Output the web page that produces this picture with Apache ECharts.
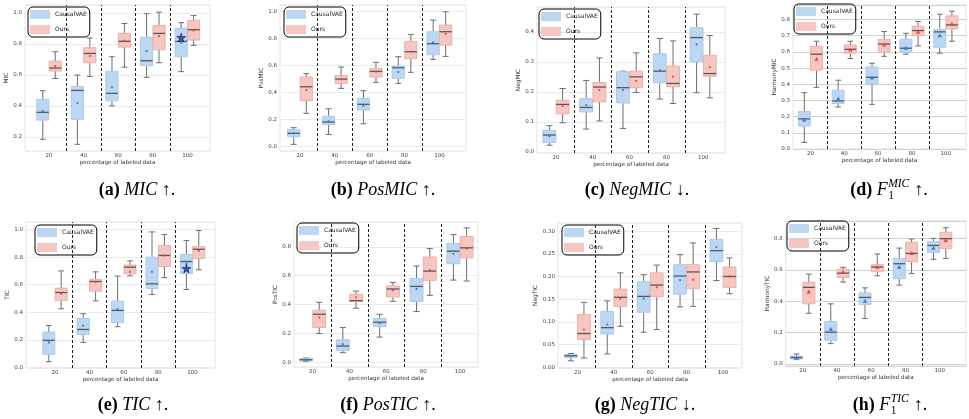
<!DOCTYPE html>
<html>
<head>
<meta charset="utf-8">
<script src="https://cdn.jsdelivr.net/npm/echarts@6/dist/echarts.min.js"></script>
<style>
  html, body { margin: 0; padding: 0; background: #fff; }
  #chart { width: 969px; height: 419px; }
</style>
</head>
<body>
<div id="chart"></div>
<script>
const categories = ["20", "40", "60", "80", "100"];
const separators = [0.5, 1.5, 2.5, 3.5];

// each row: [min, q1, median, q3, max, mean]
const micCausal = [
  [0.185, 0.309, 0.359, 0.442, 0.498, 0.367],
  [0.153, 0.314, 0.500, 0.526, 0.599, 0.419],
  [0.400, 0.434, 0.481, 0.623, 0.717, 0.520],
  [0.584, 0.659, 0.691, 0.843, 0.994, 0.753],
  [0.621, 0.717, 0.816, 0.901, 0.936, 0.807],
];
const micOurs = [
  [0.577, 0.625, 0.644, 0.689, 0.749, 0.657],
  [0.590, 0.678, 0.738, 0.775, 0.837, 0.721],
  [0.650, 0.779, 0.816, 0.867, 0.931, 0.820],
  [0.678, 0.762, 0.867, 0.918, 1.004, 0.850],
  [0.790, 0.824, 0.891, 0.951, 0.983, 0.886],
];
const posmicCausal = [
  [0.017, 0.074, 0.099, 0.128, 0.141, 0.099],
  [0.091, 0.163, 0.183, 0.225, 0.281, 0.188],
  [0.170, 0.272, 0.314, 0.358, 0.415, 0.304],
  [0.469, 0.506, 0.585, 0.598, 0.667, 0.553],
  [0.647, 0.681, 0.763, 0.852, 0.938, 0.773],
];
const posmicOurs = [
  [0.247, 0.341, 0.444, 0.516, 0.541, 0.420],
  [0.432, 0.469, 0.501, 0.528, 0.590, 0.499],
  [0.477, 0.516, 0.558, 0.580, 0.625, 0.556],
  [0.551, 0.652, 0.704, 0.780, 0.832, 0.701],
  [0.669, 0.753, 0.852, 0.901, 1.000, 0.837],
];
const negmicCausal = [
  [0.022, 0.031, 0.056, 0.072, 0.087, 0.052],
  [0.076, 0.133, 0.148, 0.177, 0.238, 0.156],
  [0.078, 0.163, 0.214, 0.267, 0.269, 0.206],
  [0.176, 0.230, 0.269, 0.327, 0.378, 0.272],
  [0.197, 0.300, 0.381, 0.414, 0.459, 0.358],
];
const negmicOurs = [
  [0.097, 0.127, 0.158, 0.172, 0.211, 0.152],
  [0.103, 0.167, 0.216, 0.231, 0.313, 0.206],
  [0.198, 0.214, 0.250, 0.269, 0.330, 0.236],
  [0.161, 0.217, 0.228, 0.286, 0.370, 0.251],
  [0.180, 0.252, 0.261, 0.322, 0.388, 0.282],
];
const harmicCausal = [
  [0.041, 0.142, 0.186, 0.231, 0.348, 0.179],
  [0.260, 0.282, 0.297, 0.363, 0.425, 0.309],
  [0.276, 0.402, 0.443, 0.507, 0.530, 0.439],
  [0.586, 0.598, 0.623, 0.678, 0.715, 0.623],
  [0.592, 0.629, 0.724, 0.740, 0.833, 0.701],
];
const harmicOurs = [
  [0.381, 0.487, 0.586, 0.635, 0.666, 0.555],
  [0.559, 0.592, 0.616, 0.643, 0.666, 0.612],
  [0.573, 0.598, 0.649, 0.678, 0.726, 0.643],
  [0.637, 0.701, 0.732, 0.759, 0.788, 0.722],
  [0.666, 0.742, 0.767, 0.823, 0.852, 0.771],
];
const ticCausal = [
  [0.041, 0.094, 0.196, 0.256, 0.304, 0.181],
  [0.181, 0.239, 0.275, 0.355, 0.389, 0.302],
  [0.295, 0.324, 0.413, 0.481, 0.662, 0.420],
  [0.529, 0.572, 0.606, 0.800, 0.983, 0.693],
  [0.565, 0.681, 0.768, 0.819, 0.920, 0.751],
];
const ticOurs = [
  [0.425, 0.486, 0.543, 0.575, 0.700, 0.534],
  [0.483, 0.553, 0.623, 0.638, 0.693, 0.621],
  [0.664, 0.679, 0.727, 0.742, 0.773, 0.693],
  [0.652, 0.732, 0.812, 0.884, 0.964, 0.812],
  [0.708, 0.790, 0.857, 0.877, 0.993, 0.845],
];
const posticCausal = [
  [0.007, 0.011, 0.018, 0.025, 0.030, 0.018],
  [0.067, 0.083, 0.113, 0.156, 0.241, 0.126],
  [0.175, 0.248, 0.278, 0.303, 0.333, 0.271],
  [0.352, 0.421, 0.526, 0.582, 0.667, 0.508],
  [0.570, 0.683, 0.770, 0.823, 0.885, 0.752],
];
const posticOurs = [
  [0.200, 0.241, 0.333, 0.361, 0.416, 0.310],
  [0.375, 0.421, 0.428, 0.471, 0.494, 0.451],
  [0.423, 0.453, 0.508, 0.529, 0.554, 0.499],
  [0.464, 0.568, 0.632, 0.729, 0.789, 0.637],
  [0.563, 0.724, 0.793, 0.871, 0.931, 0.789],
];
const negticCausal = [
  [0.014, 0.021, 0.025, 0.028, 0.030, 0.024],
  [0.029, 0.073, 0.087, 0.123, 0.146, 0.094],
  [0.077, 0.121, 0.156, 0.188, 0.204, 0.151],
  [0.133, 0.161, 0.201, 0.226, 0.248, 0.192],
  [0.191, 0.233, 0.257, 0.282, 0.306, 0.265],
];
const negticOurs = [
  [0.020, 0.061, 0.074, 0.116, 0.143, 0.083],
  [0.090, 0.134, 0.154, 0.172, 0.208, 0.151],
  [0.083, 0.155, 0.181, 0.208, 0.225, 0.176],
  [0.134, 0.173, 0.210, 0.226, 0.274, 0.193],
  [0.162, 0.176, 0.200, 0.221, 0.241, 0.200],
];
const harticCausal = [
  [0.028, 0.032, 0.041, 0.051, 0.064, 0.038],
  [0.130, 0.151, 0.203, 0.271, 0.384, 0.222],
  [0.290, 0.380, 0.425, 0.454, 0.486, 0.401],
  [0.503, 0.544, 0.640, 0.674, 0.740, 0.619],
  [0.668, 0.713, 0.757, 0.781, 0.802, 0.740],
];
const harticOurs = [
  [0.324, 0.384, 0.489, 0.521, 0.574, 0.461],
  [0.523, 0.553, 0.580, 0.604, 0.617, 0.587],
  [0.563, 0.589, 0.619, 0.636, 0.702, 0.619],
  [0.578, 0.653, 0.706, 0.777, 0.798, 0.706],
  [0.674, 0.738, 0.800, 0.841, 0.870, 0.789],
];
// highlighted CausalVAE result at 100%
const micStar = [[4, 0.840]];
const ticStar = [[4, 0.717]];

const BOX_W = 0.35;
const BOX_OFF = 0.18;
const colors = {
  causalFill: "#bdd7f3", causalEdge: "#a8c9ee", causalMean: "#2b7fd8",
  oursFill: "#f6c7c2", oursEdge: "#eeaea7", oursMean: "#e4473a",
  whisker: "#6e6e6e", median: "#585858",
};
const starPath = "path://M50,0 L61,35 L98,35 L68,57 L79,91 L50,70 L21,91 L32,57 L2,35 L39,35 Z";

const panels = [
  { yName: "MIC", causal: micCausal, ours: micOurs, star: micStar, left: 25, right: 210, c0: 49, sp: 34.6, top: 5, bottom: 151, yMin: 0.11, yMax: 1.05, step: 0.2, dec: 1, legend: [28, 7], tri: false, grid: "#ececec" },
  { yName: "PosMIC", causal: posmicCausal, ours: posmicOurs, left: 280, right: 466, c0: 300, sp: 34.85, top: 5, bottom: 151, yMin: -0.032, yMax: 1.05, step: 0.2, dec: 1, legend: [284, 7], tri: false, grid: "#ececec" },
  { yName: "NegMIC", causal: negmicCausal, ours: negmicOurs, left: 537, right: 725, c0: 556, sp: 36.8, top: 7, bottom: 153, yMin: -0.004, yMax: 0.483, step: 0.1, dec: 1, legend: [539, 9], tri: false, grid: "#ececec" },
  { yName: "HarmonyMIC", causal: harmicCausal, ours: harmicOurs, left: 793, right: 980, c0: 811.8, sp: 36.6, top: 5, bottom: 149, yMin: 0, yMax: 0.89, step: 0.1, dec: 1, legend: [794, 4], tri: true, grid: "#d2d2d2" },
  { yName: "TIC", causal: ticCausal, ours: ticOurs, star: ticStar, left: 26, right: 215, c0: 55, sp: 34.4, top: 222, bottom: 368, yMin: -0.005, yMax: 1.055, step: 0.2, dec: 1, legend: [35, 225], tri: false, grid: "#ececec" },
  { yName: "PosTIC", causal: posticCausal, ours: posticOurs, left: 294, right: 478, c0: 312.6, sp: 36.85, top: 222, bottom: 367, yMin: -0.032, yMax: 0.972, step: 0.2, dec: 1, legend: [297, 223], tri: false, grid: "#ececec" },
  { yName: "NegTIC", causal: negticCausal, ours: negticOurs, left: 558, right: 742, c0: 577.4, sp: 36.4, top: 223, bottom: 368, yMin: -0.002, yMax: 0.318, step: 0.05, dec: 2, legend: [562, 225], tri: false, grid: "#ececec" },
  { yName: "HarmonyTIC", causal: harticCausal, ours: harticOurs, left: 785.7, right: 980, c0: 804, sp: 36.9, top: 221, bottom: 366, yMin: -0.013, yMax: 0.913, step: 0.2, dec: 1, legend: [787, 221], tri: true, grid: "#d2d2d2" },
];

const captions = [
  { tag: "(a)", name: "MIC", arrow: "↑", x: 137, y: 190 },
  { tag: "(b)", name: "PosMIC", arrow: "↑", x: 383, y: 190 },
  { tag: "(c)", name: "NegMIC", arrow: "↓", x: 637, y: 190 },
  { tag: "(d)", name: "F", sub: "1", sup: "MIC", arrow: "↑", x: 889, y: 190 },
  { tag: "(e)", name: "TIC", arrow: "↑", x: 133, y: 405 },
  { tag: "(f)", name: "PosTIC", arrow: "↑", x: 388, y: 405 },
  { tag: "(g)", name: "NegTIC", arrow: "↓", x: 645, y: 405 },
  { tag: "(h)", name: "F", sub: "1", sup: "TIC", arrow: "↑", x: 890, y: 405 },
];

const isMultiple = (v, step) => Math.abs(v / step - Math.round(v / step)) < 1e-6;

function boxRenderer(fill, edge, meanColor, tri) {
  return function (params, api) {
    const x = api.value(0);
    const half = api.size([BOX_W, 0])[0] / 2;
    const cap = half * 0.48;
    const p = (i) => api.coord([x, api.value(i)]);
    const cx = p(1)[0];
    const yMin = p(1)[1], yQ1 = p(2)[1], yMed = p(3)[1], yQ3 = p(4)[1], yMax = p(5)[1], yMean = p(6)[1];
    const ws = { stroke: colors.whisker, lineWidth: 1 };
    const children = [
      { type: "line", shape: { x1: cx, y1: yMin, x2: cx, y2: yQ1 }, style: ws },
      { type: "line", shape: { x1: cx, y1: yQ3, x2: cx, y2: yMax }, style: ws },
      { type: "line", shape: { x1: cx - cap, y1: yMin, x2: cx + cap, y2: yMin }, style: ws },
      { type: "line", shape: { x1: cx - cap, y1: yMax, x2: cx + cap, y2: yMax }, style: ws },
      { type: "rect", shape: { x: cx - half, y: yQ3, width: half * 2, height: yQ1 - yQ3 }, style: { fill: fill, stroke: edge, lineWidth: 1 } },
      { type: "line", shape: { x1: cx - half, y1: yMed, x2: cx + half, y2: yMed }, style: { stroke: colors.median, lineWidth: 1.3 } },
    ];
    if (tri) {
      children.push({ type: "polygon", shape: { points: [[cx, yMean - 2.3], [cx - 2.2, yMean + 1.6], [cx + 2.2, yMean + 1.6]] }, style: { fill: meanColor } });
    } else {
      children.push({ type: "circle", shape: { cx: cx, cy: yMean, r: 1.1 }, style: { fill: meanColor } });
    }
    return { type: "group", children: children };
  };
}

const grids = [], xAxes = [], yAxes = [], series = [], legends = [];
panels.forEach((pn, k) => {
  grids.push({
    left: pn.left, top: pn.top, width: pn.right - pn.left, height: pn.bottom - pn.top,
    show: true, borderColor: "#e4e4e4", borderWidth: 1, backgroundColor: "transparent",
  });
  xAxes.push({
    type: "value", gridIndex: k,
    min: (pn.left - pn.c0) / pn.sp, max: (pn.right - pn.c0) / pn.sp,
    minInterval: 1, maxInterval: 1,
    axisLine: { show: false }, axisTick: { show: false }, splitLine: { show: false },
    axisLabel: {
      fontSize: 5.5, color: "#444", margin: 2, fontFamily: "DejaVu Sans",
      formatter: (v) => (isMultiple(v, 1) && categories[Math.round(v)]) || "",
    },
    name: "percentage of labeled data", nameLocation: "middle", nameGap: 7,
    nameTextStyle: { fontSize: 5.6, color: "#333", fontFamily: "DejaVu Sans" },
  });
  yAxes.push({
    type: "value", gridIndex: k, min: pn.yMin, max: pn.yMax,
    minInterval: pn.step, maxInterval: pn.step,
    axisLine: { show: false }, axisTick: { show: false },
    splitLine: { show: true, lineStyle: { color: pn.grid, width: 1 } },
    axisLabel: {
      fontSize: 5.5, color: "#444", margin: 3, fontFamily: "DejaVu Sans",
      formatter: (v) => (isMultiple(v, pn.step) ? v.toFixed(pn.dec) : ""),
    },
    name: pn.yName, nameLocation: "middle", nameGap: 9,
    nameTextStyle: { fontSize: 5.8, color: "#333", fontFamily: "DejaVu Sans" },
  });
  series.push({
    type: "custom", name: "CausalVAE", xAxisIndex: k, yAxisIndex: k,
    renderItem: boxRenderer(colors.causalFill, colors.causalEdge, colors.causalMean, pn.tri),
    itemStyle: { color: colors.causalFill },
    encode: { x: 0, y: [1, 2, 3, 4, 5] },
    data: pn.causal.map((r, i) => [i - BOX_OFF].concat(r)),
    markLine: {
      silent: true, symbol: "none", label: { show: false },
      lineStyle: { color: "#222", width: 1, type: [3, 2] },
      data: separators.map((v) => ({ xAxis: v })),
    },
  });
  series.push({
    type: "custom", name: "Ours", xAxisIndex: k, yAxisIndex: k,
    renderItem: boxRenderer(colors.oursFill, colors.oursEdge, colors.oursMean, pn.tri),
    itemStyle: { color: colors.oursFill },
    encode: { x: 0, y: [1, 2, 3, 4, 5] },
    data: pn.ours.map((r, i) => [i + BOX_OFF].concat(r)),
  });
  if (pn.star) {
    series.push({
      type: "scatter", name: "best", xAxisIndex: k, yAxisIndex: k,
      symbol: starPath, symbolSize: 9,
      itemStyle: { color: "#14309a", borderColor: "#060a3a", borderWidth: 0.6 },
      data: pn.star.map((d) => [d[0] - BOX_OFF, d[1]]),
    });
  }
  legends.push({
    data: ["CausalVAE", "Ours"], orient: "vertical", left: pn.legend[0], top: pn.legend[1],
    icon: "rect", itemWidth: 20, itemHeight: 9, itemGap: 6, padding: [3, 3, 3, 2],
    borderColor: "#000", borderWidth: 1, borderRadius: 5, selectedMode: false,
    textStyle: { fontSize: 6, color: "#222", fontFamily: "DejaVu Sans" },
  });
});

// captions
const measure = document.createElement("canvas").getContext("2d");
const serif = "Liberation Serif";
function width(text, size, weight, style) {
  measure.font = `${style || "normal"} ${weight || "normal"} ${size}px "${serif}"`;
  return measure.measureText(text).width;
}
const graphics = [];
captions.forEach((c) => {
  const fs = 18, small = 11.5;
  const tag = c.tag + " ";
  let total = width(tag, fs, "bold") + width(c.name, fs, "normal", "italic");
  let scriptW = 0;
  if (c.sup) {
    scriptW = Math.max(width(c.sup, small, "normal", "italic"), width(c.sub, small)) + 1;
    total += scriptW;
  }
  const tail = " " + c.arrow + ".";
  total += width(tail, fs);
  let x = c.x - total / 2;
  const base = { fontFamily: serif, fontSize: fs, fill: "#000", verticalAlign: "middle", align: "left" };
  graphics.push({ type: "text", x: x, y: c.y, style: Object.assign({}, base, { text: tag, fontWeight: "bold" }) });
  x += width(tag, fs, "bold");
  graphics.push({ type: "text", x: x, y: c.y, style: Object.assign({}, base, { text: c.name, fontStyle: "italic" }) });
  x += width(c.name, fs, "normal", "italic");
  if (c.sup) {
    graphics.push({ type: "text", x: x + 0.5, y: c.y - 6.5, style: Object.assign({}, base, { text: c.sup, fontSize: small, fontStyle: "italic" }) });
    graphics.push({ type: "text", x: x + 0.5, y: c.y + 5.5, style: Object.assign({}, base, { text: c.sub, fontSize: small }) });
    x += scriptW;
  }
  graphics.push({ type: "text", x: x, y: c.y, style: Object.assign({}, base, { text: tail }) });
});

const chart = echarts.init(document.getElementById("chart"), null, { renderer: "canvas" });
chart.setOption({
  animation: false,
  backgroundColor: "#fff",
  grid: grids,
  xAxis: xAxes,
  yAxis: yAxes,
  legend: legends,
  series: series,
  graphic: { elements: graphics },
});
</script>
</body>
</html>
